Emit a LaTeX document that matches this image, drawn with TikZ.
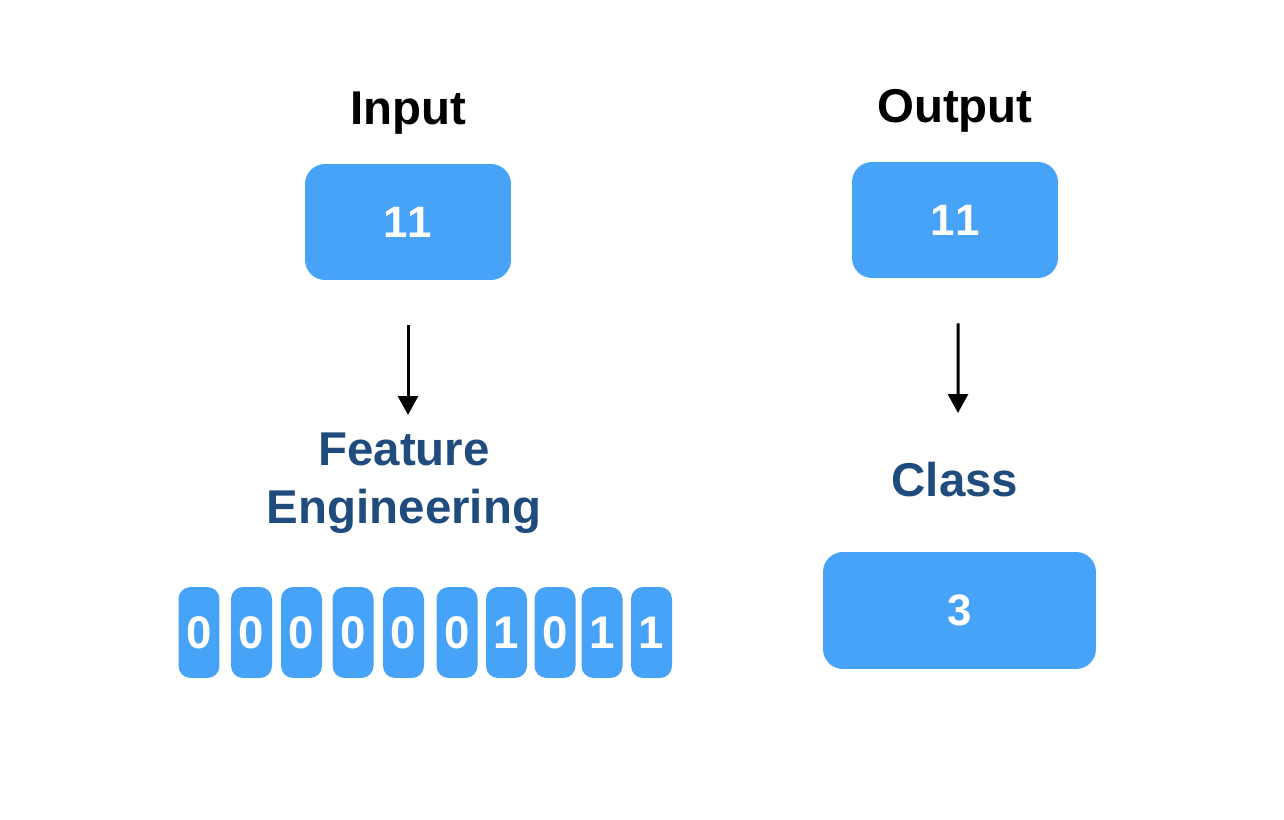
\documentclass[tikz,border=0pt]{standalone}
\usepackage{fontspec}
\setmainfont{Liberation Sans}
\usetikzlibrary{arrows.meta}
\definecolor{boxblue}{HTML}{47A3F8}
\definecolor{textblue}{HTML}{1F4C7D}

\begin{document}
\begin{tikzpicture}[x=0.02cm,y=-0.02cm,
  title/.style={font=\fontsize{27}{33}\selectfont\bfseries},
  stage/.style={font=\fontsize{27}{33}\selectfont\bfseries,text=textblue,align=center},
  numbox/.style={fill=boxblue,rounded corners=0.4cm,text=white,
    font=\fontsize{25}{30}\selectfont\bfseries\addfontfeatures{Kerning=Off},
    minimum width=4.12cm,minimum height=2.32cm},
  bit/.style={fill=boxblue,rounded corners=0.24cm,text=white,inner sep=0pt,
    font=\fontsize{26}{30}\selectfont\bfseries,minimum width=0.82cm,minimum height=1.82cm},
  arr/.style={line width=0.06cm,-{Triangle[width=0.4cm,length=0.38cm]}}]
\useasboundingbox (0,0) rectangle (1284,820);

% input side
\node[title,anchor=base] (intitle) at (408,125) {Input};
\node[numbox] (inbox) at (408,222) {11};
\node[stage] (feat) at (404,483) {Feature\\Engineering};
\coordinate (inend) at (408,415);
\draw[arr] ([yshift=-0.9cm]inbox.south) -- (inend);

\foreach \x/\b [count=\i] in {199/0,251.5/0,301.5/0,353/0,403.5/0,457/0,506.5/1,555/0,602/1,651.5/1}
  \node[bit] (bit\i) at (\x,632.5) {\b};

% output side
\node[title,anchor=base] (outtitle) at (955,123) {Output};
\node[numbox] (outbox) at (955,220) {11};
\node[stage,anchor=base] (cls) at (955,497) {Class};
\coordinate (outend) at (958,413);
\draw[arr] ([xshift=0.06cm,yshift=-0.9cm]outbox.south) -- (outend);
\node[numbox,minimum width=5.46cm,minimum height=2.34cm] (clsbox) at (959.5,610.5) {3};

\end{tikzpicture}
\end{document}
